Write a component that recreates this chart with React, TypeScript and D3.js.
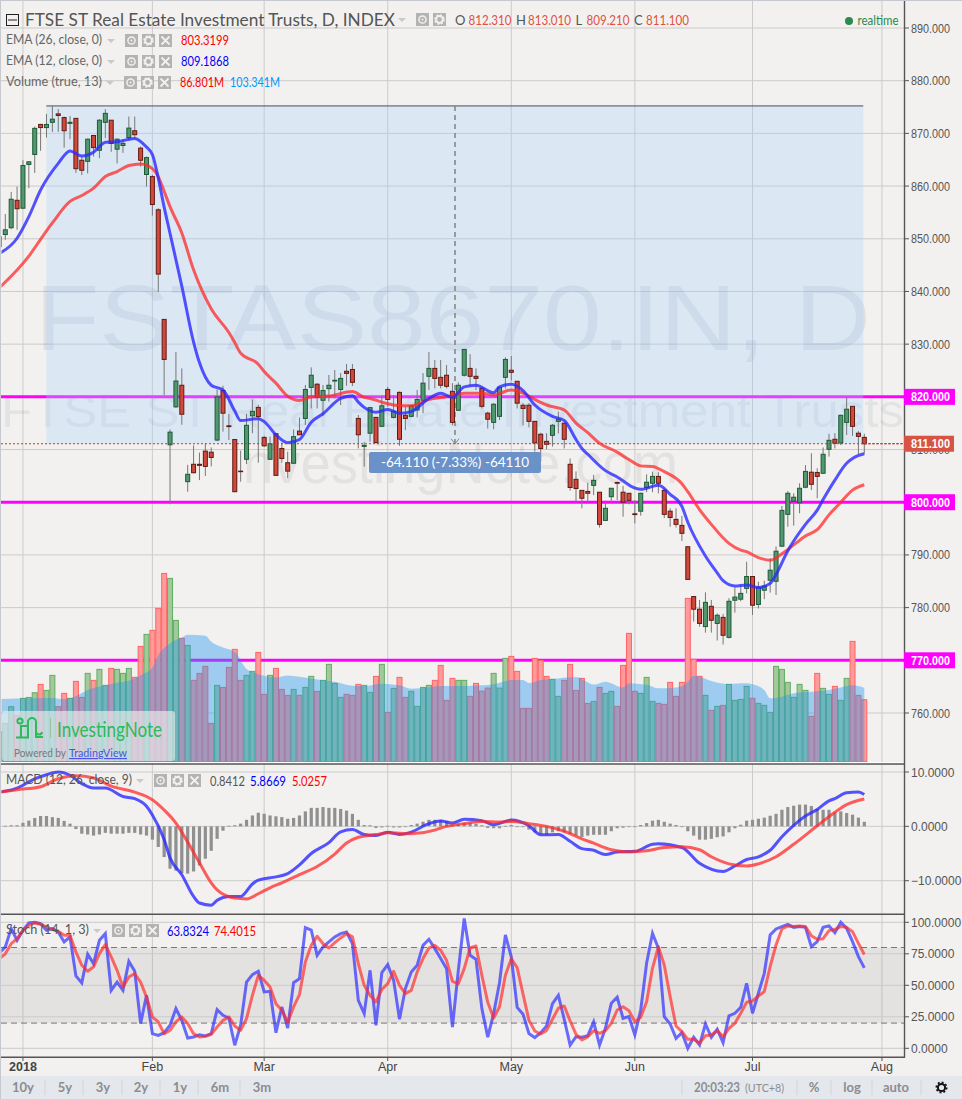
import { area, curveMonotoneX, format, line, scaleLinear } from 'd3'

const WIDTH = 962
const HEIGHT = 1099
const FIRST_BAR = -1
const UI_FONT = 'Lato, "Noto Sans", sans-serif'
const AXIS_FONT = '"Liberation Sans", Arial, sans-serif'

// daily candles, oldest first
const opens = [
  848.5,
  850.8, 852.1, 857.3, 855.8, 864.1, 866.0, 871.7, 871.1, 872.1, 873.7,
  873.0, 871.9, 872.85, 864.9, 864.7, 869.6, 866.8, 872.1, 872.5, 867.0,
  867.7, 869.2, 870.5, 867.2, 862.2, 861.8, 855.5, 834.7, 810.9, 818.1,
  822.2, 803.9, 807.2, 807.2, 809.7, 809.5, 811.8, 821.2, 814.5, 811.9,
  805.9, 808.15, 816.4, 818.0, 812.3, 808.15, 813.0, 810.2, 807.5, 807.4,
  813.5, 815.9, 821.8, 822.4, 819.35, 821.55, 823.0, 821.4, 824.85, 825.2,
  815.9, 810.6, 813.1, 816.1, 814.4, 821.4, 816.1, 820.85, 816.5, 816.3,
  817.5, 819.35, 823.9, 825.4, 823.7, 824.1, 821.05, 817.45, 824.1, 825.4,
  823.9, 821.6, 816.9, 815.15, 816.3, 823.7, 825.05, 822.95, 818.4, 818.4,
  815.35, 812.9, 811.55, 812.7, 815.35, 815.0, 807.2, 804.35, 802.25, 802.05,
  803.2, 801.9, 796.55, 801.05, 803.75, 801.9, 801.7, 797.8, 798.3, 802.8,
  803.6, 804.9, 802.25, 798.3, 796.75, 795.6, 791.55, 782.1, 779.7, 776.4,
  780.25, 777.0, 778.15, 774.35, 781.4, 781.6, 783.65, 785.9, 780.6, 783.3,
  785.2, 785.0, 791.65, 797.7, 800.2, 799.9, 802.85, 805.7, 805.65, 805.5,
  810.05, 811.95, 811.25, 815.15, 818.2, 813.1, 812.31,
]
const highs = [
  851.5,
  854.7, 858.9, 859.9, 864.9, 864.75, 871.3, 871.8, 873.7, 875.2, 874.6,
  873.2, 873.3, 872.9, 865.6, 869.0, 869.7, 872.7, 874.6, 872.5, 869.0,
  868.9, 873.2, 873.2, 867.5, 865.6, 862.1, 855.8, 834.7, 813.8, 828.5,
  825.4, 807.1, 810.8, 809.4, 811.1, 810.4, 821.4, 822.1, 816.75, 812.0,
  809.8, 816.75, 819.5, 818.5, 812.6, 812.45, 813.1, 811.3, 809.6, 813.8,
  816.1, 822.25, 825.6, 822.6, 822.25, 824.15, 825.1, 824.5, 826.25, 826.25,
  816.55, 811.45, 818.1, 816.2, 820.2, 821.9, 820.35, 821.0, 818.1, 818.45,
  821.3, 824.5, 828.5, 827.0, 827.0, 826.05, 822.6, 822.75, 829.1, 828.1,
  825.4, 821.9, 817.2, 818.8, 821.9, 827.5, 827.75, 823.0, 818.8, 818.8,
  815.4, 813.2, 813.1, 814.85, 817.2, 815.0, 808.3, 805.85, 802.3, 803.7,
  805.2, 801.9, 800.3, 802.65, 803.9, 803.1, 801.7, 800.4, 801.8, 805.3,
  805.8, 805.7, 802.65, 798.85, 798.85, 797.4, 791.6, 782.2, 781.45, 782.9,
  781.45, 778.9, 778.8, 781.8, 783.85, 784.3, 788.7, 786.0, 784.9, 785.1,
  789.35, 791.6, 799.3, 802.1, 801.7, 803.6, 807.05, 809.3, 806.45, 810.4,
  813.0, 813.1, 816.6, 819.9, 818.2, 813.5, 813.01,
]
const lows = [
  847.4,
  849.8, 851.8, 851.7, 855.7, 859.6, 862.5, 866.7, 869.2, 870.3, 870.3,
  867.3, 868.9, 862.5, 862.1, 862.4, 865.6, 865.3, 869.1, 866.5, 864.3,
  866.3, 868.7, 869.0, 863.7, 859.9, 854.4, 839.9, 820.35, 799.6, 817.9,
  814.7, 802.0, 805.5, 804.2, 805.0, 806.8, 811.6, 813.4, 811.8, 801.9,
  803.9, 807.25, 813.1, 807.5, 810.5, 808.0, 805.1, 807.5, 804.6, 807.25,
  812.75, 814.65, 817.8, 817.8, 816.4, 819.1, 819.7, 818.45, 822.1, 822.05,
  810.2, 806.75, 811.5, 811.2, 814.35, 818.1, 815.9, 810.7, 813.7, 816.1,
  816.1, 816.9, 821.3, 821.6, 821.6, 821.6, 814.65, 817.3, 823.85, 821.9,
  821.3, 817.8, 814.0, 813.85, 815.6, 821.6, 823.1, 817.8, 814.6, 814.2,
  809.6, 807.7, 810.05, 810.55, 813.05, 810.2, 802.2, 800.0, 798.85, 800.1,
  801.35, 795.2, 796.5, 800.0, 800.4, 797.25, 799.6, 796.0, 797.45, 801.9,
  801.9, 801.7, 797.0, 795.35, 795.2, 792.65, 785.3, 777.35, 776.4, 775.25,
  775.25, 773.75, 773.0, 774.15, 779.05, 781.2, 782.7, 778.6, 779.85, 781.6,
  782.85, 782.4, 791.6, 795.35, 795.55, 797.9, 802.65, 802.3, 800.75, 805.35,
  808.65, 810.2, 810.85, 812.75, 812.6, 809.15, 809.21,
]
const closes = [
  850.4,
  851.7, 857.5, 855.7, 863.9, 864.6, 870.95, 871.1, 871.7, 872.7, 873.4,
  870.5, 872.1, 863.3, 863.0, 868.9, 867.3, 872.5, 873.8, 868.1, 868.9,
  868.1, 871.0, 869.75, 864.9, 865.4, 856.5, 843.3, 827.1, 813.3, 823.0,
  816.7, 805.3, 805.6, 807.0, 806.8, 808.5, 820.0, 816.9, 814.35, 802.0,
  805.8, 814.6, 817.25, 816.25, 810.7, 811.1, 805.1, 808.3, 805.9, 812.45,
  812.8, 821.4, 824.1, 819.9, 821.2, 822.2, 823.15, 823.5, 824.45, 822.75,
  812.8, 810.8, 817.95, 811.3, 818.3, 819.5, 817.25, 811.95, 815.9, 818.3,
  819.5, 822.6, 825.4, 823.5, 822.2, 822.0, 815.15, 822.2, 829.0, 823.9,
  823.5, 818.2, 815.75, 818.6, 821.8, 827.1, 824.65, 818.8, 817.8, 815.35,
  811.25, 810.2, 811.0, 814.6, 815.75, 811.95, 802.8, 802.6, 800.75, 801.7,
  804.15, 795.8, 798.85, 802.65, 803.6, 800.0, 800.35, 797.65, 801.7, 803.8,
  804.9, 803.6, 797.7, 797.1, 795.8, 794.1, 785.35, 779.7, 777.0, 781.0,
  777.6, 778.55, 774.75, 781.2, 782.0, 782.7, 785.9, 780.45, 783.85, 784.1,
  787.1, 790.7, 798.45, 801.7, 800.95, 802.65, 805.85, 803.4, 804.9, 809.1,
  811.75, 811.2, 816.5, 817.65, 814.4, 812.5, 811.1,
]

// volume in millions
const volumes = [
  42,
  53.7, 77, 65, 88.7, 90, 96.6, 108.3, 99.9, 120.9, 77,
  95.7, 88.7, 112.5, 90, 123.7, 113.9, 129.3, 106.9, 130.7, 129.3,
  123.7, 130.7, 118.1, 161.5, 178.3, 183.9, 214.7, 263.7, 256.7, 197.9,
  172.7, 162.9, 113.9, 123.7, 133.5, 53.7, 106.9, 104.1, 132.1, 157.3,
  113.9, 120.9, 126.5, 153.1, 94.3, 120.9, 130.7, 101.3, 92.9, 101.3,
  92.9, 104.1, 119.5, 98.5, 113.9, 136.3, 109.7, 90.1, 94.3, 92.9,
  108.3, 106.9, 97.1, 119.5, 136.3, 69.1, 102.7, 118.1, 90.1, 98.5,
  77.5, 104.1, 106.9, 113.9, 134.9, 85.9, 116.7, 113.9, 113.9, 91.5,
  109.7, 98.9, 103.1, 123.7, 103.1, 144.7, 147.5, 126.5, 74.7, 74.7,
  144.7, 141.9, 119.5, 115.3, 91.5, 113.9, 136.3, 99.9, 116.7, 81.7,
  84.5, 104.1, 95.7, 98.5, 77.5, 134.9, 179.7, 98.5, 95.7, 118.1,
  84.5, 81.7, 80.3, 111.1, 91.5, 111.1, 228.7, 143.3, 119.5, 92.9,
  71.9, 77.5, 78.9, 108.3, 85.9, 87.3, 105.5, 88.7, 81.7, 78.9,
  69.1, 133.5, 129.3, 111.1, 90.1, 108.3, 99.9, 63.5, 123.7, 102.7,
  94.3, 105.5, 85.9, 116.7, 168.5, 92.9, 86.8,
]

const volumeMaBars = [-1, 5, 8, 10, 12, 14, 17, 19, 21, 23, 25, 26, 28, 30, 31, 34, 35, 37, 39, 41, 42, 44, 46, 48, 50, 53, 56, 59, 61, 64, 67, 69, 72, 74, 78, 81, 83, 84, 86, 88, 89, 91, 94, 97, 100, 102, 105, 106, 109, 111, 114, 115, 116, 117, 118, 120, 123, 126, 127, 129, 130, 132, 134, 137, 140, 142, 144, 146]
const volumeMaValues = [87.7, 88.7, 89.1, 87.3, 91.9, 100.3, 106.9, 110.6, 113.4, 121.3, 132.1, 149.3, 165.7, 174, 177.8, 176.4, 168, 160, 154, 130, 126, 120.4, 118, 120.9, 119, 115.3, 112, 106.4, 105.9, 109.2, 106.9, 102.2, 104.1, 105.9, 105.9, 106.9, 108.3, 110.6, 114.3, 114.3, 110.1, 114.3, 116.7, 118.5, 108, 112, 104, 110, 107.8, 102.7, 104, 105.5, 112, 120.4, 119, 112.9, 108.7, 109.7, 108.3, 100.3, 88.7, 91, 95.7, 98, 100.3, 104, 106.9, 103.34]

const ema12Bars = [-1, 2, 4, 6, 9, 11, 13, 15, 16, 17, 19, 22, 24, 25, 26, 27, 28, 30, 32, 33, 35, 37, 39, 40, 43, 44, 46, 48, 50, 52, 54, 57, 59, 60, 61, 63, 65, 67, 69, 72, 74, 76, 78, 80, 83, 84, 86, 88, 90, 93, 95, 97, 98, 99, 102, 104, 107, 108, 111, 113, 115, 116, 119, 121, 122, 124, 126, 128, 130, 131, 133, 136, 138, 139, 141, 143, 144, 146]
const ema12Values = [847.2, 850.1, 854.2, 859.25, 864.3, 866.65, 865.7, 866.4, 867.5, 868.3, 868.4, 869.05, 867.4, 866.0, 861.5, 856.0, 851, 841, 830.4, 826.5, 822.2, 821.3, 817.3, 815.5, 815.85, 815.3, 812.8, 811.3, 811.9, 815.2, 816.8, 819.7, 820.2, 819, 818, 817.1, 817.6, 816.9, 817.2, 819.7, 820.7, 819.9, 821.9, 822.2, 820.8, 821.9, 822.4, 821.2, 818.45, 816.3, 815.5, 811.9, 810.2, 809.1, 806, 804.8, 802.7, 802.45, 803.2, 801.5, 799.2, 796.2, 789.8, 786.6, 785.1, 784.1, 784.3, 783.8, 784.6, 786.3, 790.8, 795.8, 798.5, 800.5, 804.2, 807.4, 808.3, 809.19]

const ema26Bars = [-1, 4, 6, 8, 11, 13, 15, 17, 19, 21, 23, 25, 26, 27, 28, 30, 32, 35, 38, 39, 40, 43, 44, 46, 48, 50, 52, 55, 59, 61, 62, 64, 67, 69, 72, 75, 78, 81, 83, 86, 88, 90, 92, 95, 97, 99, 101, 104, 106, 108, 110, 112, 115, 116, 118, 120, 123, 125, 126, 128, 130, 132, 134, 136, 138, 140, 142, 144, 146]
const ema26Values = [840.7, 846.7, 849.9, 853, 857.1, 858.2, 859.6, 861.8, 862.75, 863.9, 864.2, 863.3, 861.8, 859, 856.1, 851.1, 844.1, 836.7, 832.2, 830.3, 828.3, 826.2, 824.8, 822.6, 820.1, 819.3, 820, 820.15, 821, 819.9, 819.7, 819, 818.3, 818.3, 819.5, 820, 820.7, 820.7, 820.35, 821.3, 820.7, 819.5, 818.45, 817.5, 815, 813.2, 811.2, 809.5, 808.1, 806.9, 806.8, 805.8, 803.5, 802, 798.6, 795.8, 792.2, 790.9, 790.6, 789.5, 789, 790.2, 791.9, 793.6, 794.8, 797.6, 800, 802.3, 803.32]

const macdHistogram = [
  0.1,
  0.1, 0.2, 0.2, 0.65, 1.05, 1.55, 1.9, 1.9, 1.7, 1.55,
  1.0, 0.5, -0.5, -1.35, -1.5, -1.7, -1.5, -1.2, -1.35, -1.35,
  -1.35, -1.2, -1.2, -1.5, -1.7, -2.45, -3.8, -5.65, -7.8, -8.15,
  -8.6, -8.7, -8.3, -7.2, -5.95, -4.5, -2.3, -0.8, 0.1, 0.2,
  0.5, 1.2, 2.0, 2.5, 2.3, 2.0, 1.85, 1.7, 1.4, 1.55,
  2.0, 2.75, 3.4, 3.4, 3.55, 3.4, 3.4, 3.2, 2.9, 2.3,
  1.2, 0.25, 0.2, -0.3, -0.2, 0.1, -0.2, -0.2, 0, 0.25,
  0.5, 0.85, 1.2, 1.2, 1.2, 0.9, 0.3, 0.4, 0.6, 0.6,
  0.5, 0.2, -0.3, -0.35, -0.35, 0.1, 0.25, 0, -0.1, -0.6,
  -1.1, -1.45, -1.55, -1.1, -0.9, -1.1, -1.4, -1.7, -1.95, -1.7,
  -1.55, -1.55, -1.55, -0.9, -0.35, -0.25, -0.1, 0, 0.25, 0.6,
  1.05, 1.2, 0.85, 0.5, 0.25, 0, -0.9, -1.7, -2.45, -2.45,
  -2.3, -2.0, -1.85, -1.1, -0.35, 0.3, 1.05, 1.2, 1.4, 1.6,
  1.95, 2.3, 3.05, 3.55, 3.8, 4.0, 4.0, 3.75, 3.2, 3.05,
  3.05, 2.55, 2.75, 2.45, 2.15, 1.6, 0.84,
]

const macdBars = [-1, 2, 5, 7, 9, 11, 13, 15, 17, 20, 22, 24, 25, 27, 28, 30, 32, 33, 35, 36, 38, 40, 42, 43, 46, 48, 50, 52, 55, 57, 59, 61, 63, 65, 67, 69, 72, 74, 76, 78, 81, 83, 86, 89, 91, 94, 96, 98, 100, 102, 104, 107, 110, 111, 115, 118, 122, 124, 126, 128, 130, 132, 134, 136, 138, 140, 141, 143, 145, 146]
const macdValues = [6.3, 7.05, 8.75, 9.5, 10, 9.4, 7.85, 7.05, 7.05, 5.5, 5.1, 3.7, 2.1, -2.4, -5.8, -8.9, -12.9, -14.1, -14.5, -13.6, -12.9, -12.9, -10.6, -9.9, -9.3, -8.7, -7.1, -5, -3, -1, -0.6, -1.5, -1.7, -1.1, -1.5, -1.05, 0.5, 1, 0.6, 1.3, 1.05, 0.3, 1.15, 0.1, -1.55, -1.5, -2.75, -4.1, -4.4, -5.2, -4.7, -4.6, -3.3, -3.2, -3.9, -6.8, -8.3, -7.3, -6.1, -5.6, -4.4, -1.9, 0.2, 1.9, 3.1, 4.7, 5.1, 6.2, 6.3, 5.87]

const signalBars = [-1, 2, 6, 9, 12, 15, 18, 22, 25, 27, 29, 31, 33, 35, 36, 39, 41, 43, 45, 47, 50, 53, 56, 58, 60, 63, 65, 69, 73, 74, 78, 81, 84, 86, 89, 92, 95, 98, 100, 103, 106, 109, 112, 115, 118, 120, 123, 126, 128, 131, 134, 138, 141, 143, 146]
const signalValues = [6.3, 6.75, 7.3, 8.75, 9.3, 8.9, 7.4, 6.3, 4.9, 3.0, 0.6, -2.9, -6.7, -10.4, -11.7, -13.2, -13.35, -12.4, -11.3, -10.4, -8.9, -7.4, -5.1, -3.05, -2, -1.5, -1.2, -1.35, -0.7, -0.3, 0.5, 0.9, 0.8, 0.9, 0.5, 0, -0.9, -2.3, -3.1, -4.3, -4.7, -4.5, -3.9, -3.75, -4.3, -5.6, -6.9, -7.3, -6.9, -5.6, -3.3, 0.1, 2.6, 4, 5.03]

const stochK = [
  75.9,
  80.4, 95, 85.7, 93.7, 99.5, 100, 98.9, 93.7, 95, 92.3,
  84.4, 88.4, 57.4, 51.9, 74.6, 67.2, 85.7, 91, 46, 52.6,
  46, 69, 61.1, 19.6, 42.1, 11.6, 10.3, 12.4, 18.3, 31.5,
  22.2, 8.2, 9, 10.8, 9.8, 11.6, 30.7, 26.2, 24.1, 2.4,
  18.3, 52.6, 58.5, 61.1, 44.7, 45.2, 12.4, 32.8, 16.1, 52.1,
  55.3, 95.8, 93.9, 73.8, 80.4, 84.4, 88.4, 91, 92.3, 83.1,
  38.1, 27.6, 61.9, 18.3, 60.1, 66.4, 54, 23, 47.4, 60.6,
  65.9, 81.7, 86.5, 79.1, 71.2, 63.2, 16.9, 61.9, 103, 73.8,
  70.6, 31.5, 8.8, 27.5, 52, 90, 72.6, 32.5, 27, 11.7,
  8.4, 12.4, 17.7, 35.5, 42, 23, 2.5, 9.2, 8.8, 10,
  21, 2.6, 15.9, 35.7, 40.5, 23.8, 25.1, 10.6, 30.4, 67.5,
  91.3, 79.4, 25.1, 19.3, 7.9, 12.4, 0, 8.7, 2.6, 19.3,
  8.7, 15.1, 4.5, 25.7, 27.8, 32.5, 51.6, 27.8, 43.7, 59.5,
  89.9, 94.7, 96.6, 98.4, 96, 96.6, 96, 80.7, 84.7, 96,
  97.1, 91.8, 100, 95.2, 84.7, 72.8, 63.83,
]
const stochD = [
  71.2,
  75, 83, 87, 93.7, 97.6, 99.5, 98.4, 96.3, 94.4, 92.9,
  89.7, 89.7, 76.5, 65.9, 61.1, 64.6, 75.1, 82.3, 72.5, 61.9,
  48.7, 56.6, 59.3, 52.6, 40.7, 24.9, 20.9, 11.6, 14.3, 20.9,
  24.9, 19.6, 11.6, 9, 9.5, 11.1, 16.9, 22.2, 24.9, 17.7,
  14.3, 23.5, 42, 57.9, 54, 48.7, 35.4, 30.2, 20.9, 32.8,
  42.6, 68.5, 81.7, 88.9, 83, 79.6, 83.9, 87.6, 91, 88.4,
  67.2, 50, 42, 36.8, 46.8, 51.3, 61.1, 50, 43.4, 46,
  60.6, 71.2, 79.6, 81.7, 77.8, 69.8, 53.2, 51.3, 63.2, 79.6,
  81.2, 58, 36.5, 24, 33, 58, 71, 64, 43, 22.3,
  13.7, 11.3, 14.2, 23, 31.8, 33.6, 21.7, 11, 6.7, 9.1,
  14, 11.9, 14, 19.8, 30.4, 33, 29.9, 21.2, 24.6, 37,
  63.5, 80.7, 66.1, 41, 17.7, 13.2, 7.1, 7.1, 4, 10,
  10.6, 14, 9.3, 15.9, 19.8, 27.8, 36.5, 37.6, 41.5, 45,
  64.8, 82, 94.7, 97.1, 96.6, 97.1, 96.6, 89.4, 86.5, 87,
  93.4, 94.4, 96.6, 96, 92.6, 83.3, 74.4,
]

const priceTicks = [890, 880, 870, 860, 850, 840, 830, 820, 810, 800, 790, 780, 770, 760]
const macdTicks = [10, 0, -10]
const stochTicks = [100, 75, 50, 25, 0]
const monthBars = [3, 25, 44, 65, 86, 107, 127, 149]
const monthLabels = ['2018', 'Feb', 'Mar', 'Apr', 'May', 'Jun', 'Jul', 'Aug']
const levelLines = [820, 800, 770]
const rangeLabels = ['10y', '5y', '3y', '2y', '1y', '6m', '3m']

const lastClose = 811.1
const measureHigh = 875.21
const measureFirstBar = 7
const measureLastBar = 146

const x = scaleLinear().domain([0, 146]).range([5.3, 864.3])
const yPrice = scaleLinear().domain([760, 890]).range([713, 28])
const yVolume = scaleLinear().domain([0, 100]).range([761.7, 690.3])
const yMacd = scaleLinear().domain([-10, 10]).range([880.7, 772])
const yStoch = scaleLinear().domain([0, 100]).range([1048.3, 922.3])

type Point = readonly [number, number]

const zip = (bars: readonly number[], values: readonly number[]): Point[] =>
  bars.map((bar, index) => [bar, values[index]] as const)
const full = (values: readonly number[]): Point[] =>
  values.map((value, index) => [index + FIRST_BAR, value] as const)

function smoothPath(points: Point[], y: (value: number) => number) {
  return (
    line<Point>()
      .x((point) => x(point[0]))
      .y((point) => y(point[1]))
      .curve(curveMonotoneX)(points) ?? ''
  )
}

function jaggedPath(points: Point[], y: (value: number) => number) {
  return (
    line<Point>()
      .x((point) => x(point[0]))
      .y((point) => y(point[1]))(points) ?? ''
  )
}

const BLUE_LINE = { stroke: '#2a2aff', strokeOpacity: 0.8, strokeWidth: 3, fill: 'none', strokeLinejoin: 'round' } as const
const RED_LINE = { stroke: '#ff2a2a', strokeOpacity: 0.75, strokeWidth: 3, fill: 'none', strokeLinejoin: 'round' } as const

function ToolIcons({ left, top, step = 17, close = true }: { left: number; top: number; step?: number; close?: boolean }) {
  const size = 13
  return (
    <g>
      <rect x={left} y={top} width={size} height={size} fill="#b3b3b3" />
      <circle cx={left + 6.5} cy={top + 6.5} r={3.6} fill="none" stroke="#f2f1ef" strokeWidth={1.5} />
      <circle cx={left + 6.5} cy={top + 6.5} r={1} fill="#f2f1ef" />
      <rect x={left + step} y={top} width={size} height={size} fill="#b3b3b3" />
      <circle cx={left + step + 6.5} cy={top + 6.5} r={3.4} fill="none" stroke="#f2f1ef" strokeWidth={2} />
      <circle cx={left + step + 6.5} cy={top + 6.5} r={4.6} fill="none" stroke="#f2f1ef" strokeWidth={1.4} strokeDasharray="2 1.6" />
      {close && (
        <>
          <rect x={left + step * 2} y={top} width={size} height={size} fill="#b3b3b3" />
          <path
            d={`M${left + step * 2 + 2.5} ${top + 2.5}l8 8m0 -8l-8 8`}
            stroke="#f2f1ef"
            strokeWidth={1.8}
          />
        </>
      )}
    </g>
  )
}

function Caret({ left, top }: { left: number; top: number }) {
  return <path d={`M${left} ${top}h8l-4 4z`} fill="#c9c9c9" />
}

function PriceTag({ value, fill, width = 51 }: { value: number; fill: string; width?: number }) {
  const yy = yPrice(value)
  return (
    <g>
      <rect x={904} y={yy - 8} width={width} height={16} fill={fill} />
      <text
        x={911}
        y={yy + 4.5}
        fontFamily={AXIS_FONT}
        fontSize={12.5}
        fontWeight={700}
        fill="#fff"
        textLength={39}
        lengthAdjust="spacingAndGlyphs"
      >
        {format('.3f')(value)}
      </text>
    </g>
  )
}

export default function App() {
  const plotGrid = '#cbcbcb'
  const axisText = { fontFamily: AXIS_FONT, fontSize: 12, fill: '#555' }
  const measureLeft = x(measureFirstBar) - 0.2
  const measureRight = x(measureLastBar) - 1

  const volumePoints = zip(volumeMaBars, volumeMaValues)
  const volumeArea =
    area<Point>()
      .x((point) => x(point[0]))
      .y0(yVolume(0))
      .y1((point) => yVolume(point[1]))
      .curve(curveMonotoneX)(volumePoints) ?? ''

  return (
    <svg
      width={WIDTH}
      height={HEIGHT}
      viewBox={`0 0 ${WIDTH} ${HEIGHT}`}
      style={{ position: 'absolute', left: 0, top: 0, display: 'block' }}
    >
      <defs>
        <clipPath id="plot">
          <rect x={1.5} y={1} width={903} height={1056} />
        </clipPath>
      </defs>
      <rect width={WIDTH} height={HEIGHT} fill="#f2f1ef" />

      {/* vertical grid over all panes */}
      {monthBars.map((bar) => (
        <line key={bar} x1={x(bar)} x2={x(bar)} y1={1} y2={1057} stroke={plotGrid} strokeWidth={1} />
      ))}
      {priceTicks.map((tick) => (
        <line key={tick} x1={1} x2={904} y1={yPrice(tick)} y2={yPrice(tick)} stroke={plotGrid} strokeWidth={1} />
      ))}

      {/* chart watermarks */}
      <text x={35} y={350} fontFamily={AXIS_FONT} fontSize={92} fill="#1d3c66" fillOpacity={0.09} textLength={836} lengthAdjust="spacingAndGlyphs">
        FSTAS8670.IN, D
      </text>
      <text x={1} y={427} fontFamily={AXIS_FONT} fontSize={46} fill="#1d3c66" fillOpacity={0.08} textLength={903} lengthAdjust="spacingAndGlyphs">
        FTSE ST Real Estate Investment Trusts
      </text>
      <text x={228} y={483} fontFamily={AXIS_FONT} fontSize={58} fill="#333" fillOpacity={0.08} textLength={450} lengthAdjust="spacingAndGlyphs">
        InvestingNote.com
      </text>

      {levelLines.map((level) => (
        <line key={level} x1={1} x2={904} y1={yPrice(level)} y2={yPrice(level)} stroke="#ff00ff" strokeWidth={3} />
      ))}

      {/* price range measure */}
      <rect
        x={measureLeft}
        y={yPrice(measureHigh)}
        width={measureRight - measureLeft}
        height={yPrice(lastClose) - yPrice(measureHigh)}
        fill="#a9d0ff"
        fillOpacity={0.3}
      />
      <line x1={measureLeft} x2={measureRight} y1={yPrice(measureHigh)} y2={yPrice(measureHigh)} stroke="#4a4f55" strokeWidth={1} />
      <line x1={455} x2={455} y1={yPrice(measureHigh)} y2={yPrice(lastClose)} stroke="#888" strokeWidth={1.6} strokeDasharray="5 4" />
      <path d={`M451 ${yPrice(lastClose) - 5}l4 5l4 -5`} fill="none" stroke="#888" strokeWidth={1} />

      {/* volume */}
      <g clipPath="url(#plot)">
        {volumes.map((volume, index) => {
          const up = closes[index] >= opens[index]
          const cx = x(index + FIRST_BAR)
          return (
            <rect
              key={index}
              x={cx - 2.5}
              y={yVolume(volume)}
              width={5}
              height={yVolume(0) - yVolume(volume)}
              fill={up ? '#a3c89b' : '#ff9a9a'}
              stroke={up ? '#5fae61' : '#ff6464'}
              strokeWidth={1}
            />
          )
        })}
        <path d={volumeArea} fill="#2196f3" fillOpacity={0.4} />
      </g>

      {/* candles */}
      <g clipPath="url(#plot)">
        {opens.map((open, index) => {
          const close = closes[index]
          const up = close >= open
          const cx = x(index + FIRST_BAR)
          const top = yPrice(Math.max(open, close))
          const bottom = yPrice(Math.min(open, close))
          return (
            <g key={index}>
              <line x1={cx} x2={cx} y1={yPrice(highs[index])} y2={yPrice(lows[index])} stroke="#777" strokeWidth={1} />
              <rect
                x={cx - 2}
                y={top}
                width={4}
                height={Math.max(bottom - top, 0.5)}
                fill={up ? '#53976f' : '#d2483a'}
                stroke={up ? '#1d5a37' : '#5f1a12'}
                strokeWidth={1}
              />
            </g>
          )
        })}
        <path d={smoothPath(zip(ema26Bars, ema26Values), yPrice)} {...RED_LINE} />
        <path d={smoothPath(zip(ema12Bars, ema12Values), yPrice)} {...BLUE_LINE} />
      </g>

      {/* last price line */}
      <line x1={1} x2={904} y1={yPrice(lastClose)} y2={yPrice(lastClose)} stroke="#c0392b" strokeWidth={1} strokeDasharray="2 2" />

      <rect x={369} y={452} width={172} height={21} rx={2} fill="#6a92c8" />
      <text x={455} y={467} textAnchor="middle" fontFamily={UI_FONT} fontSize={13.5} fill="#fff">
        -64.110 (-7.33%) -64110
      </text>

      {/* logo */}
      <rect x={2} y={711} width={173} height={50} rx={3} fill="#f2f1ef" fillOpacity={0.62} />
      <g fill="none" stroke="#2cba5a" strokeWidth={2}>
        <circle cx={20} cy={721} r={2.6} />
        <path d="M16 737.5h12v-11.5h-7v11" />
        <path d="M28 737v-15a4 4 0 0 1 8 0v9a3 3 0 0 0 6 1" />
        <path d="M36 724v13h7" />
      </g>
      <line x1={50.5} x2={50.5} y1={718} y2={738} stroke="#9bbfa5" strokeWidth={1} />
      <text x={57} y={737} fontFamily={UI_FONT} fontSize={21} fill="#2cba5a" textLength={105} lengthAdjust="spacingAndGlyphs">
        InvestingNote
      </text>
      <text x={14} y={757} fontFamily={UI_FONT} fontSize={11.5} fill="#777" textLength={52} lengthAdjust="spacingAndGlyphs">
        Powered by
      </text>
      <text x={69} y={757} fontFamily={UI_FONT} fontSize={11.5} fill="#4a55e0" textDecoration="underline" textLength={58} lengthAdjust="spacingAndGlyphs">
        TradingView
      </text>

      {/* pane separators */}
      <rect x={0} y={762} width={905} height={2} fill="#fff" />
      <line x1={0} x2={905} y1={764} y2={764} stroke="#555" strokeWidth={1.4} />
      <line x1={0} x2={905} y1={914.3} y2={914.3} stroke="#555" strokeWidth={1.4} />
      <line x1={0} x2={905} y1={1057.3} y2={1057.3} stroke="#555" strokeWidth={1.4} />

      {/* macd */}
      {macdTicks.map((tick) => (
        <line key={tick} x1={1} x2={904} y1={yMacd(tick)} y2={yMacd(tick)} stroke={plotGrid} strokeWidth={1} />
      ))}
      <g clipPath="url(#plot)">
        {macdHistogram.map((value, index) => (
          <rect
            key={index}
            x={x(index + FIRST_BAR) - 1.6}
            y={Math.min(yMacd(value), yMacd(0))}
            width={3.2}
            height={Math.max(Math.abs(yMacd(value) - yMacd(0)), 0.8)}
            fill="#909090"
          />
        ))}
        <path d={smoothPath(zip(macdBars, macdValues), yMacd)} {...BLUE_LINE} />
        <path d={smoothPath(zip(signalBars, signalValues), yMacd)} {...RED_LINE} />
      </g>

      {/* stochastic */}
      <rect x={1} y={yStoch(80)} width={902} height={yStoch(20) - yStoch(80)} fill="#6b5f6b" fillOpacity={0.1} />
      {stochTicks.map((tick) => (
        <line key={tick} x1={1} x2={904} y1={yStoch(tick)} y2={yStoch(tick)} stroke={plotGrid} strokeWidth={1} />
      ))}
      {[80, 20].map((tick) => (
        <line key={tick} x1={1} x2={904} y1={yStoch(tick)} y2={yStoch(tick)} stroke="#777" strokeWidth={1} strokeDasharray="6 4" />
      ))}
      <g clipPath="url(#plot)">
        <path d={jaggedPath(full(stochK), yStoch)} {...BLUE_LINE} strokeOpacity={0.68} strokeLinejoin="miter" />
        <path d={jaggedPath(full(stochD), yStoch)} {...RED_LINE} strokeOpacity={0.68} />
      </g>

      {/* right axis */}
      <line x1={904.5} x2={904.5} y1={1} y2={1057.5} stroke="#555" strokeWidth={1.4} />
      {priceTicks.map((tick) => (
        <g key={tick}>
          <line x1={905} x2={909} y1={yPrice(tick)} y2={yPrice(tick)} stroke="#555" />
          <text x={911} y={yPrice(tick) + 4.5} {...axisText} textLength={39} lengthAdjust="spacingAndGlyphs">
            {format('.3f')(tick)}
          </text>
        </g>
      ))}
      {macdTicks.map((tick) => (
        <g key={tick}>
          <line x1={905} x2={909} y1={yMacd(tick)} y2={yMacd(tick)} stroke="#555" />
          <text x={911} y={yMacd(tick) + 4.5} {...axisText}>
            {format('.4f')(tick)}
          </text>
        </g>
      ))}
      {stochTicks.map((tick) => (
        <g key={tick}>
          <line x1={905} x2={909} y1={yStoch(tick)} y2={yStoch(tick)} stroke="#555" />
          <text x={911} y={yStoch(tick) + 4.5} {...axisText}>
            {format('.4f')(tick)}
          </text>
        </g>
      ))}
      {levelLines.map((level) => (
        <PriceTag key={level} value={level} fill="#ff00ff" />
      ))}
      <PriceTag value={lastClose} fill="#d75442" width={50} />
      <line x1={864} x2={904} y1={yPrice(lastClose)} y2={yPrice(lastClose)} stroke="#c0392b" strokeDasharray="2 2" />

      {/* time axis */}
      {monthBars.map((bar, index) => (
        <g key={bar}>
          <line x1={x(bar)} x2={x(bar)} y1={1058} y2={1061} stroke="#555" />
          <text
            x={x(bar)}
            y={1071}
            textAnchor="middle"
            fontFamily={AXIS_FONT}
            fontSize={12.5}
            fontWeight={index === 0 ? 700 : 400}
            fill="#444"
          >
            {monthLabels[index]}
          </text>
        </g>
      ))}

      {/* bottom toolbar */}
      <rect x={0} y={1076} width={WIDTH} height={23} fill="#e4e7ec" />
      {rangeLabels.map((label, index) => (
        <text
          key={label}
          x={[23, 65, 103, 141, 180, 220, 262][index]}
          y={1092}
          textAnchor="middle"
          fontFamily={UI_FONT}
          fontSize={13}
          fontWeight={700}
          fill="#8a8d91"
        >
          {label}
        </text>
      ))}
      {[45, 83, 122, 160, 198, 240, 682, 797, 831, 872, 921].map((sepX) => (
        <line key={sepX} x1={sepX} x2={sepX} y1={1080} y2={1095} stroke="#d3d6db" />
      ))}
      <text x={694} y={1092} fontFamily={UI_FONT} fontSize={12.5} fontWeight={700} fill="#8a8d91" textLength={46} lengthAdjust="spacingAndGlyphs">
        20:03:23
      </text>
      <text x={745} y={1092} fontFamily={UI_FONT} fontSize={12} fill="#8a8d91" textLength={39} lengthAdjust="spacingAndGlyphs">
        (UTC+8)
      </text>
      <text x={814} y={1092} textAnchor="middle" fontFamily={UI_FONT} fontSize={13} fontWeight={700} fill="#8a8d91">
        %
      </text>
      <text x={852} y={1092} textAnchor="middle" fontFamily={UI_FONT} fontSize={13} fontWeight={700} fill="#8a8d91">
        log
      </text>
      <text x={896} y={1092} textAnchor="middle" fontFamily={UI_FONT} fontSize={13} fontWeight={700} fill="#8a8d91">
        auto
      </text>
      <circle cx={941.5} cy={1087.5} r={3.6} fill="none" stroke="#111" strokeWidth={2} />
      <circle cx={941.5} cy={1087.5} r={5.2} fill="none" stroke="#111" strokeWidth={1.6} strokeDasharray="2 2" />

      {/* legends */}
      <rect x={6.5} y={14.5} width={12} height={11} fill="#f2f1ef" stroke="#222" strokeWidth={1} />
      <line x1={8} x2={17} y1={20} y2={20} stroke="#222" />
      <text x={25} y={26} fontFamily={UI_FONT} fontSize={16.5} fill="#555" textLength={370} lengthAdjust="spacingAndGlyphs">
        FTSE ST Real Estate Investment Trusts, D, INDEX
      </text>
      <Caret left={398} top={18} />
      <ToolIcons left={416} top={13} step={17} close={false} />
      {[
        ['O', 455, '812.310', 468.5],
        ['H', 516, '813.010', 528],
        ['L', 575.5, '809.210', 586.5],
        ['C', 634, '811.100', 646],
      ].map(([label, labelX, value, valueX]) => (
        <g key={String(label)} fontFamily={UI_FONT} fontSize={13}>
          <text x={Number(labelX)} y={25} fill="#555">
            {label}
          </text>
          <text x={Number(valueX)} y={25} fill="#e0523f" textLength={43} lengthAdjust="spacingAndGlyphs">
            {value}
          </text>
        </g>
      ))}
      <circle cx={849} cy={21} r={4} fill="#2b8a50" />
      <text x={857.5} y={25} fontFamily={UI_FONT} fontSize={12.5} fill="#2b8a50" textLength={41} lengthAdjust="spacingAndGlyphs">
        realtime
      </text>

      <g fontFamily={UI_FONT} fontSize={13.5}>
        <text x={6} y={44} fill="#666" textLength={96} lengthAdjust="spacingAndGlyphs">
          EMA (26, close, 0)
        </text>
        <Caret left={107} top={39} />
        <ToolIcons left={125} top={34} />
        <text x={181} y={45} fill="#ff0000" textLength={48} lengthAdjust="spacingAndGlyphs">
          803.3199
        </text>

        <text x={6} y={65} fill="#666" textLength={96} lengthAdjust="spacingAndGlyphs">
          EMA (12, close, 0)
        </text>
        <Caret left={107} top={60} />
        <ToolIcons left={125} top={55} />
        <text x={181} y={66} fill="#0000ff" textLength={48} lengthAdjust="spacingAndGlyphs">
          809.1868
        </text>

        <text x={6} y={86} fill="#666" textLength={96} lengthAdjust="spacingAndGlyphs">
          Volume (true, 13)
        </text>
        <Caret left={106} top={81} />
        <ToolIcons left={124} top={76} />
        <text x={180} y={87} fill="#ff0000" textLength={44} lengthAdjust="spacingAndGlyphs">
          86.801M
        </text>
        <text x={230} y={87} fill="#0099ff" textLength={50} lengthAdjust="spacingAndGlyphs">
          103.341M
        </text>

        <text x={6} y={784} fill="#555" textLength={126} lengthAdjust="spacingAndGlyphs">
          MACD (12, 26, close, 9)
        </text>
        <Caret left={136} top={779} />
        <ToolIcons left={154} top={774} />
        <text x={210} y={786} fill="#555" textLength={35} lengthAdjust="spacingAndGlyphs">
          0.8412
        </text>
        <text x={250} y={786} fill="#0000ff" textLength={36} lengthAdjust="spacingAndGlyphs">
          5.8669
        </text>
        <text x={292} y={786} fill="#ff0000" textLength={35} lengthAdjust="spacingAndGlyphs">
          5.0257
        </text>

        <text x={6} y={934} fill="#555" textLength={83} lengthAdjust="spacingAndGlyphs">
          Stoch (14, 1, 3)
        </text>
        <Caret left={93} top={929} />
        <ToolIcons left={112} top={924} />
        <text x={167} y={936} fill="#0000ff" textLength={42} lengthAdjust="spacingAndGlyphs">
          63.8324
        </text>
        <text x={214} y={936} fill="#ff0000" textLength={42} lengthAdjust="spacingAndGlyphs">
          74.4015
        </text>
      </g>

      {/* outer frame */}
      <line x1={0} x2={WIDTH} y1={0.5} y2={0.5} stroke="#c6c9cd" />
      <line x1={0.5} x2={0.5} y1={0} y2={HEIGHT} stroke="#c6c9cd" />
    </svg>
  )
}
